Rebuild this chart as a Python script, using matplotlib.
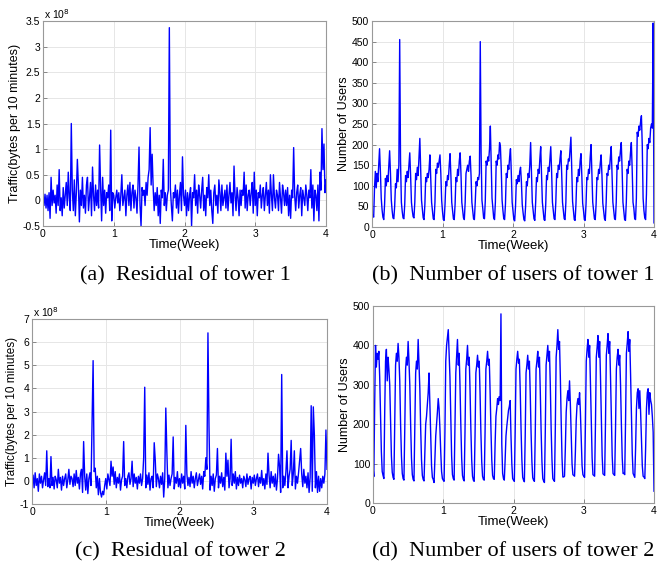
import numpy as np
import matplotlib
matplotlib.use('Agg')
import matplotlib.pyplot as plt
from matplotlib.ticker import FuncFormatter

plt.rcParams['font.family'] = ['Liberation Sans', 'DejaVu Sans']

# residual traffic of tower 1, 10 samples per day, in units of 1e8 bytes
res1 = [
    0.05, -0.1, 0.12, -0.15, 0.1, -0.2, 0.15, -0.35, 0.45, -0.1,
    0.2, -0.05, 0.1, -0.25, 0.3, -0.1, 0.6, -0.2, 0.05, -0.3,
    0.25, -0.15, 0.1, 0.35, -0.1, 0.55, 0.05, -0.2, 1.5, 0.2,
    -0.2, 0.4, -0.3, 0.15, 0.8, 0.3, -0.42, 0.2, -0.1, 0.45,
    -0.15, 0.1, -0.25, 0.3, 0.45, -0.2, 0.05, 0.35, -0.3, 0.65,
    0.1, -0.2, 0.3, -0.1, 0.2, -0.15, 1.08, 0.25, -0.4, 0.45,
    -0.1, 0.2, -0.25, 0.15, 0.05, 0.3, -0.2, 1.37, -0.4, 0.15,
    0.1, -0.15, 0.05, 0.2, -0.05, 0.15, -0.2, 0.1, 0.5, -0.1,
    0.05, 0.2, -0.3, 0.1, 0.3, -0.1, 0.35, -0.2, 0.15, 0.3,
    -0.15, 0.2, 0.05, -0.25, 0.3, 1.04, -0.1, -0.5, 0.25, 0.1,
    0.2, -0.1, 0.35, 0.1, 0.45, 0.6, 1.42, 0.3, 0.9, 0.25,
    -0.2, 0.15, -0.1, 0.25, -0.3, 0.1, -0.45, 0.2, 0.05, 0.8,
    -0.1, 0.15, -0.2, 0.1, 0.2, 3.37, 0.25, -0.1, -0.4, 0.15,
    0.05, 0.3, -0.15, 0.2, -0.25, 0.1, 0.35, -0.2, 0.85, 0.1,
    -0.1, 0.2, -0.3, 0.15, -0.2, 0.1, 0.25, -0.5, 0.15, 0.05,
    0.5, -0.1, 0.2, -0.25, 0.3, 0.1, -0.15, 0.2, 0.45, -0.2,
    0.1, -0.3, 0.25, 0.05, 0.5, -0.1, 0.2, -0.2, -0.45, 0.15,
    0.3, -0.1, 0.1, -0.25, 0.4, 0.15, -0.2, 0.3, -0.1, 0.05,
    0.2, -0.15, 0.3, -0.2, 0.1, 0.35, -0.05, 0.15, -0.3, 0.67,
    0.1, -0.2, 0.25, 0.05, -0.3, 0.2, -0.1, 0.2, 0.1, 0.55,
    -0.15, 0.3, -0.2, 0.1, 0.2, -0.1, 0.15, 0.35, -0.25, 0.55,
    -0.1, 0.2, -0.3, 0.15, 0.05, 0.3, -0.15, 0.1, 0.25, -0.2,
    0.1, 0.35, -0.1, 0.2, -0.25, 0.5, 0.1, -0.2, 0.5, 0.05,
    -0.15, 0.2, 0.1, -0.2, 0.35, 0.05, -0.25, 0.3, 0.15, -0.1,
    0.2, -0.1, 0.25, -0.3, 0.1, -0.35, 0.2, 0.05, 1.03, 0.1,
    -0.2, 0.15, 0.3, -0.15, 0.1, 0.25, -0.3, 0.2, 0.05, -0.1,
    0.3, 0.1, -0.2, 0.2, 0.05, 0.6, -0.15, 0.3, -0.4, 0.2,
    0.1, -0.2, 0.3, -0.4, 0.55, 0.2, 1.4, 0.6, 1.1, 0.15,
    0.4,
]

# residual traffic of tower 2, same sampling, units of 1e8 bytes
res2 = [
    -0.1, 0.25, -0.3, 0.35, -0.2, 0.1, -0.45, 0.3, -0.1, 0.2,
    -0.3, 0.05, 0.35, -0.2, 1.3, -0.25, 0.1, -0.3, 1.05, -0.2,
    0.15, -0.35, 0.2, 0.05, -0.3, 0.5, -0.1, 0.15, -0.4, 0.2,
    -0.2, 0.1, 0.3, -0.3, 0.05, 0.5, -0.15, 0.2, 0.1, -0.25,
    0.3, -0.2, 0.45, -0.1, 0.15, -0.35, 0.3, 0.5, -0.5, 1.7,
    0.2, -0.4, 0.3, -0.55, 0.1, 0.35, -0.2, 2.65, 5.2, 0.4,
    0.55, -0.3, 0.2, -0.6, 0.1, -0.5, -0.7, -0.45, -0.6, -0.2,
    0.1, -0.35, 0.3, 0.05, -0.2, 0.85, 0.2, 0.6, -0.15, 0.4,
    -0.3, 0.15, -0.1, 0.3, -0.4, 0.05, 0.2, 1.7, -0.2, 0.1,
    -0.3, 0.2, 0.35, -0.15, 0.1, 0.85, -0.25, 0.3, -0.1, 0.15,
    -0.35, 0.2, -0.1, 0.3, -0.2, 0.1, 1.0, 4.05, -0.3, 0.25,
    -0.15, 0.35, -0.4, 0.1, 0.2, -0.3, 1.65, 0.9, -0.25, 0.3,
    0.1, -0.3, 0.2, -0.15, 0.35, -0.7, 0.1, 3.15, 1.25, -0.3,
    0.25, -0.2, 0.1, 0.3, 1.9, -0.35, 0.15, -0.1, 0.4, -0.25,
    0.1, -0.3, 0.3, -0.1, 0.2, -0.35, 2.4, 0.3, -0.2, 0.15,
    -0.25, 0.4, -0.1, 0.2, -0.3, 0.1, 0.35, -0.2, 0.05, 0.3,
    -0.15, 0.2, -0.35, 0.4, 0.2, 1.0, 0.5, 6.4, 2.35, -0.4,
    0.2, -0.2, 0.3, -0.45, 0.1, 0.25, 1.4, -0.3, 0.2, -0.1,
    0.35, -0.25, 0.15, -0.4, 1.2, 0.2, 0.9, -0.3, 0.1, 1.8,
    -0.2, 0.3, -0.1, 0.4, -0.35, 0.15, -0.2, 0.25, -0.1, 0.1,
    -0.3, 0.2, 0.05, -0.25, 0.3, -0.15, 0.1, 0.2, -0.35, 0.15,
    -0.1, 0.25, -0.2, 0.1, 0.3, -0.25, 0.15, -0.1, 0.45, -0.2,
    0.1, -0.35, 0.3, -0.15, 1.2, 0.25, -0.3, 0.4, -0.1, 0.2,
    -0.25, 0.3, -0.4, 0.1, 1.15, 0.6, -0.5, 4.6, -0.3, 0.2,
    -0.2, 0.4, 1.3, -0.3, 0.2, 0.5, 1.75, -0.2, 0.3, 1.3,
    -0.35, 0.2, -0.1, 0.35, 0.85, 1.4, 0.3, -0.25, 0.5, -0.1,
    0.2, -0.3, 0.35, -0.5, 0.15, 3.25, -0.45, 3.2, 2.0, -0.3,
    0.4, -0.5, 0.2, -0.45, 0.1, -0.3, 0.2, -0.1, 0.3, 2.2,
    0.5,
]

# number of users of tower 1, one row per day, every 2 hours
users1_days = [
    [30, 28, 24, 95, 135, 95, 130, 110, 150, 190, 135, 70],
    [42, 24, 18, 55, 118, 100, 125, 110, 150, 185, 130, 65],
    [40, 22, 20, 50, 105, 95, 140, 110, 150, 455, 160, 60],
    [38, 22, 20, 55, 125, 110, 135, 120, 150, 180, 125, 60],
    [40, 25, 22, 60, 130, 115, 145, 125, 170, 215, 140, 65],
    [42, 22, 18, 55, 120, 110, 130, 120, 140, 175, 120, 60],
    [40, 20, 18, 60, 140, 130, 155, 145, 160, 175, 130, 65],
    [38, 18, 16, 55, 110, 100, 125, 115, 150, 178, 125, 60],
    [40, 20, 18, 55, 120, 110, 140, 125, 160, 180, 130, 60],
    [40, 22, 18, 60, 130, 140, 150, 135, 160, 172, 125, 60],
    [40, 20, 18, 60, 110, 100, 120, 115, 130, 450, 180, 65],
    [45, 22, 20, 65, 160, 150, 170, 160, 190, 245, 160, 70],
    [45, 22, 18, 60, 160, 150, 175, 165, 205, 195, 140, 65],
    [40, 20, 18, 55, 130, 120, 150, 140, 170, 190, 130, 60],
    [40, 18, 15, 50, 115, 105, 125, 110, 135, 145, 110, 55],
    [35, 18, 15, 50, 110, 100, 130, 120, 150, 205, 130, 60],
    [40, 20, 16, 60, 120, 110, 140, 130, 165, 195, 130, 60],
    [40, 18, 16, 55, 125, 115, 145, 135, 165, 195, 135, 60],
    [40, 20, 18, 60, 130, 120, 150, 140, 165, 185, 130, 60],
    [40, 20, 18, 60, 150, 140, 165, 160, 190, 218, 140, 62],
    [40, 18, 16, 55, 120, 110, 140, 125, 160, 178, 125, 58],
    [40, 18, 16, 55, 120, 115, 140, 130, 170, 200, 130, 60],
    [40, 20, 18, 55, 120, 115, 140, 130, 155, 175, 125, 58],
    [40, 20, 16, 60, 130, 125, 150, 140, 170, 195, 130, 60],
    [40, 20, 18, 60, 150, 140, 170, 160, 185, 205, 140, 60],
    [40, 18, 16, 60, 140, 130, 160, 150, 180, 205, 140, 60],
    [45, 20, 18, 70, 230, 220, 245, 235, 255, 270, 200, 70],
    [40, 22, 18, 80, 200, 190, 215, 205, 240, 250, 240, 495],
]
users1_last = 10

# number of users of tower 2
users2_days = [
    [92, 67, 250, 400, 345, 380, 365, 385, 320, 220, 130, 80],
    [70, 62, 230, 360, 390, 310, 370, 340, 300, 210, 120, 78],
    [65, 60, 200, 350, 380, 360, 405, 370, 310, 200, 120, 75],
    [62, 58, 190, 340, 370, 350, 410, 360, 300, 200, 115, 72],
    [60, 56, 200, 330, 360, 340, 415, 350, 290, 190, 110, 70],
    [60, 56, 130, 200, 220, 250, 280, 330, 250, 170, 95, 65],
    [60, 52, 110, 170, 200, 230, 265, 240, 190, 130, 80, 62],
    [58, 55, 180, 360, 400, 420, 440, 380, 320, 220, 120, 72],
    [62, 58, 190, 330, 370, 415, 350, 380, 300, 200, 115, 70],
    [60, 56, 180, 340, 365, 400, 350, 370, 290, 190, 110, 68],
    [58, 55, 170, 330, 350, 375, 345, 360, 280, 180, 105, 68],
    [60, 58, 180, 340, 360, 385, 350, 365, 285, 190, 110, 70],
    [62, 60, 150, 220, 240, 265, 250, 270, 260, 480, 150, 75],
    [62, 58, 110, 170, 195, 215, 235, 245, 260, 170, 100, 62],
    [58, 55, 180, 340, 365, 385, 355, 365, 290, 190, 110, 65],
    [58, 54, 170, 330, 350, 375, 340, 360, 280, 180, 105, 64],
    [58, 55, 175, 340, 360, 385, 345, 370, 285, 185, 105, 62],
    [56, 52, 180, 350, 375, 400, 360, 385, 300, 190, 110, 62],
    [58, 55, 190, 370, 400, 440, 390, 410, 320, 210, 115, 66],
    [66, 68, 140, 230, 265, 285, 260, 310, 250, 170, 100, 72],
    [70, 68, 130, 210, 250, 265, 250, 280, 230, 160, 95, 72],
    [68, 65, 200, 360, 390, 415, 370, 400, 310, 210, 115, 72],
    [70, 68, 200, 370, 395, 425, 370, 410, 320, 215, 120, 74],
    [72, 70, 205, 375, 400, 430, 380, 410, 320, 215, 120, 75],
    [72, 70, 190, 340, 370, 390, 350, 375, 300, 200, 115, 75],
    [75, 72, 210, 380, 405, 435, 385, 415, 325, 220, 125, 75],
    [70, 65, 140, 240, 280, 290, 240, 285, 230, 160, 95, 68],
    [66, 62, 140, 240, 280, 290, 225, 280, 260, 250, 220, 180],
]
users2_last = 30

captions = ['(a)  Residual of tower 1', '(b)  Number of users of tower 1',
            '(c)  Residual of tower 2', '(d)  Number of users of tower 2']

users1 = sum(users1_days, []) + [users1_last]
users2 = sum(users2_days, []) + [users2_last]

fmt = FuncFormatter(lambda v, p: '%g' % v)


def style(ax, yticks, ylabel, ysize=9):
    ax.set_xlim(0, 4)
    ax.set_ylim(yticks[0], yticks[-1])
    ax.set_xticks([0, 1, 2, 3, 4])
    ax.set_yticks(yticks)
    ax.xaxis.set_major_formatter(fmt)
    ax.yaxis.set_major_formatter(fmt)
    ax.grid(True, color='#e6e6e6', lw=0.7)
    ax.set_axisbelow(True)
    ax.tick_params(direction='in', length=3, width=0.6, color='#777',
                   labelsize=7.5, pad=2)
    for s in ax.spines.values():
        s.set_color('#999999')
        s.set_linewidth(0.8)
    ax.set_xlabel('Time(Week)', fontsize=9.5, labelpad=0)
    ax.set_ylabel(ylabel, fontsize=ysize, labelpad=1)


fig = plt.figure(figsize=(6.59, 5.65), dpi=100)

ax1 = fig.add_axes([43/659, 339/565, 283/659, 205/565])
ax1.plot(np.linspace(0, 4, len(res1)), res1, color='#0000ff', lw=1.0)
style(ax1, np.arange(-0.5, 3.51, 0.5), 'Traffic(bytes per 10 minutes)')
ax1.text(0.005, 1.0, r'x 10$^{8}$', transform=ax1.transAxes, fontsize=7.5,
         ha='left', va='bottom')

ax2 = fig.add_axes([372/659, 338/565, 282/659, 206/565])
ax2.plot(np.linspace(0, 4, len(users1)), users1, color='#0000ff', lw=1.0)
style(ax2, np.arange(0, 501, 50), 'Number of Users')

ax3 = fig.add_axes([32/659, 61/565, 295/659, 185/565])
ax3.plot(np.linspace(0, 4, len(res2)), res2, color='#0000ff', lw=1.0)
style(ax3, np.arange(-1, 7.1, 1), 'Traffic(bytes per 10 minutes)', ysize=8.5)
ax3.text(0.005, 1.0, r'x 10$^{8}$', transform=ax3.transAxes, fontsize=7.5,
         ha='left', va='bottom')

ax4 = fig.add_axes([373/659, 62/565, 281/659, 197/565])
ax4.plot(np.linspace(0, 4, len(users2)), users2, color='#0000ff', lw=1.0)
style(ax4, np.arange(0, 501, 100), 'Number of Users')

cap_pos = [(185, 276), (513, 276), (180, 552), (513, 552)]
for (cx, cy), c in zip(cap_pos, captions):
    fig.text(cx/659, 1 - cy/565, c, ha='center', va='center',
             family='Liberation Serif', fontsize=16)

fig.savefig('out.png', dpi=100)
